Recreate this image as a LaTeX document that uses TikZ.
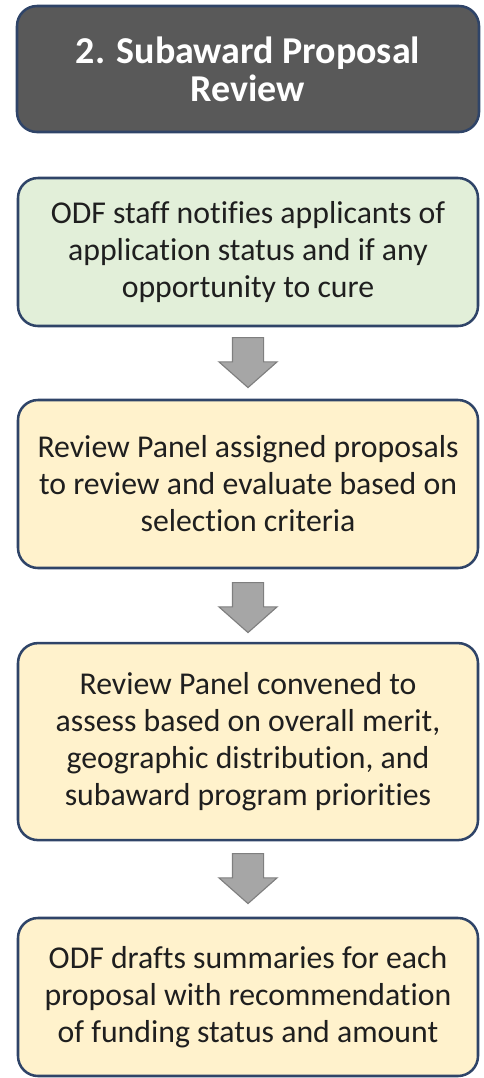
\documentclass[tikz,border=0pt]{standalone}
\usepackage{fontspec}
\setmainfont{Carlito}[Ligatures={NoCommon,NoContextual,NoRare}]
\usepackage{tikz}
\usetikzlibrary{shapes,arrows,positioning}

\definecolor{navy}{HTML}{2F4468}
\definecolor{headgray}{HTML}{595959}
\definecolor{greenbox}{HTML}{E2EFD9}
\definecolor{yellowbox}{HTML}{FFF2CC}
\definecolor{arrowfill}{HTML}{A6A6A6}
\definecolor{arrowline}{HTML}{7F7F7F}
\definecolor{ink}{HTML}{1F1F1F}

\begin{document}
\begin{tikzpicture}
			\tikzstyle{Box}		= [rectangle, rounded corners=0.5cm, draw=navy, line width=1.8pt, minimum width=11.5cm, inner sep=0pt, align=center, text=ink, font=\fontsize{22.6}{26.3}\selectfont]
			\tikzstyle{Title}	= [fill=headgray, text=white, minimum width=11.55cm, font=\fontsize{27}{26.8}\selectfont\bfseries]
			\tikzstyle{Green}	= [fill=greenbox]
			\tikzstyle{Yellow}	= [fill=yellowbox]
			\tikzstyle{Down}	= [single arrow, rotate=-90, fill=arrowfill, draw=arrowline, line width=0.8pt, minimum height=1.25cm, minimum width=1.425cm, single arrow head extend=0.3375cm, single arrow tip angle=97, inner xsep=0pt, inner ysep=0.375cm]
			
			\useasboundingbox (0,0) rectangle (12.1,-26.95);
			
			\node (head) at (6.2,-1.725) [Box][Title][minimum height=3.15cm] {2. Subaward Proposal\\Review};
			\node (s1) at (6.2,-6.3) [Box][Green][minimum height=3.7cm] {ODF staff notifies applicants of\\application status and if any\\opportunity to cure};
			\node (s2) at (6.2,-12.1) [Box][Yellow][minimum height=4.2cm] {Review Panel assigned proposals\\to review and evaluate based on\\selection criteria};
			\node (s3) at (6.2,-18.54) [Box][Yellow][minimum height=4.925cm] {Review Panel convened to\\assess based on overall merit,\\geographic distribution, and\\subaward program priorities};
			\node (s4) at (6.2,-24.925) [Box][Yellow][minimum height=3.95cm] {ODF drafts summaries for each\\proposal with recommendation\\of funding status and amount};
			
			\node (a1) at (6.2,-8.425) [Down, anchor=tail] {};
			\node (a2) at (6.2,-14.55) [Down, anchor=tail] {};
			\node (a3) at (6.2,-21.325) [Down, anchor=tail] {};
		\end{tikzpicture}
\end{document}
